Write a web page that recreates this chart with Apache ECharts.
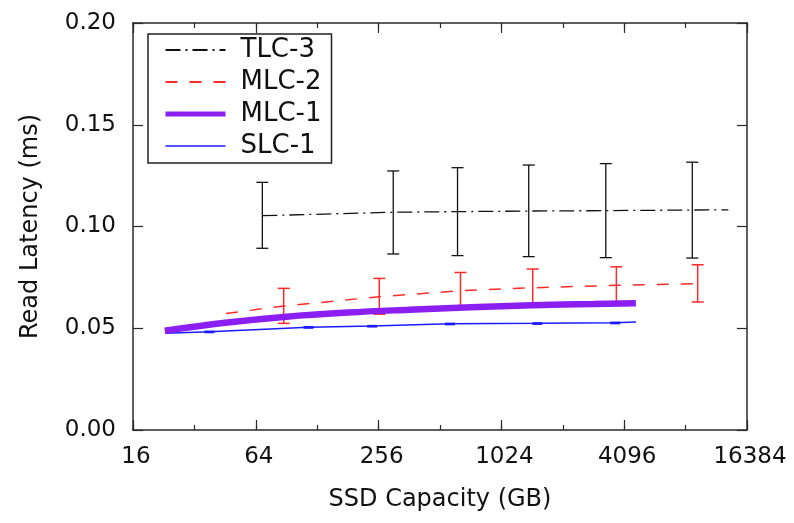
<!DOCTYPE html>
<html>
<head>
<meta charset="utf-8">
<script src="https://cdn.jsdelivr.net/npm/echarts@6/dist/echarts.min.js"></script>
<style>
  html, body { margin: 0; padding: 0; background: #fff; }
  #chart { width: 794px; height: 523px; }
</style>
</head>
<body>
<div id="chart"></div>
<script>
// x tick labels (log2 axis)
const xLabels = [16, 64, 256, 1024, 4096, 16384];

// TLC-3 trend line + error bars
const tlcLineX = [68.9, 302, 624, 1394, 3327, 8834, 13270];
const tlcLineY = [0.1053, 0.1070, 0.1073, 0.1076, 0.1078, 0.1081, 0.1082];
const tlcBarX = [68.9, 302, 624, 1394, 3327, 8834];
const tlcLow = [0.0893, 0.0865, 0.0857, 0.0852, 0.0847, 0.0845];
const tlcHigh = [0.1217, 0.1273, 0.1289, 0.1302, 0.1309, 0.1316];

// MLC-2
const mlc2LineX = [45.7, 87.7, 258, 645, 1458, 3749, 9390];
const mlc2LineY = [0.0573, 0.0609, 0.0655, 0.0684, 0.0699, 0.0711, 0.0719];
const mlc2BarX = [87.7, 258, 645, 1458, 3749, 9390];
const mlc2Low = [0.0524, 0.0569, 0.0595, 0.0609, 0.0621, 0.0629];
const mlc2High = [0.0696, 0.0745, 0.0774, 0.0791, 0.0802, 0.0812];

// MLC-1
const mlc1LineX = [22.9, 45.3, 90.5, 181, 362, 724, 1448, 2896, 4673];
const mlc1LineY = [0.0488, 0.0527, 0.0557, 0.0577, 0.0591, 0.0603, 0.0613, 0.0619, 0.0623];

// SLC-1
const slcLineX = [23, 37.9, 116, 238, 573, 1536, 3698, 4680];
const slcLineY = [0.0475, 0.0483, 0.0505, 0.0511, 0.0522, 0.0524, 0.0527, 0.0531];
const slcBarX = [37.9, 116, 238, 573, 1536, 3698];
const slcLow = [0.0479, 0.0501, 0.0507, 0.0518, 0.0520, 0.0523];
const slcHigh = [0.0485, 0.0507, 0.0513, 0.0524, 0.0526, 0.0529];

const FONT = 'DejaVu Sans';
const AXIS_COLOR = '#2a2a2a';

const pairs = (xs, ys) => xs.map((x, i) => [x, ys[i]]);
const bars = (xs, lo, hi) => xs.map((x, i) => [x, lo[i], hi[i]]);

// error bar renderer
function errorBars(color, cap, width) {
  return function (params, api) {
    const x = api.value(0);
    const lo = api.coord([x, api.value(1)]);
    const hi = api.coord([x, api.value(2)]);
    const style = { stroke: color, lineWidth: width };
    return {
      type: 'group',
      children: [
        { type: 'line', shape: { x1: lo[0], y1: lo[1], x2: hi[0], y2: hi[1] }, style },
        { type: 'line', shape: { x1: lo[0] - cap, y1: lo[1], x2: lo[0] + cap, y2: lo[1] }, style },
        { type: 'line', shape: { x1: hi[0] - cap, y1: hi[1], x2: hi[0] + cap, y2: hi[1] }, style },
      ],
    };
  };
}

function logAxis(position, interval, tickLen, withLine, withLabels) {
  return {
    type: 'log',
    logBase: 2,
    min: 16,
    max: 16384,
    interval: interval,
    position: position,
    axisLine: { show: withLine, lineStyle: { color: AXIS_COLOR, width: 1.5 } },
    axisTick: { show: true, inside: true, length: tickLen, lineStyle: { color: AXIS_COLOR, width: 1.2 } },
    axisLabel: {
      show: withLabels,
      margin: 16,
      color: '#111',
      fontFamily: FONT,
      fontSize: 23,
      padding: [0, 0, 0, 6],
      formatter: (v) => {
        const n = Math.round(v);
        return xLabels.includes(n) ? String(n) : '';
      },
    },
    splitLine: { show: false },
    minorTick: { show: false },
  };
}

const chart = echarts.init(document.getElementById('chart'));
chart.setOption({
  animation: false,
  backgroundColor: '#fff',
  grid: { left: 133, right: 47, top: 23, bottom: 93 },
  legend: {
    data: [
      { name: 'TLC-3' },
      { name: 'MLC-2' },
      { name: 'MLC-1', lineStyle: { width: 5 } },
      { name: 'SLC-1', lineStyle: { width: 1.5 } },
    ],
    orient: 'vertical',
    left: 148,
    top: 34,
    padding: [3, 10, 4, 15],
    itemWidth: 60,
    itemHeight: 26,
    itemGap: 6,
    itemStyle: { opacity: 0 },
    borderColor: '#222',
    borderWidth: 1.5,
    textStyle: { fontFamily: FONT, fontSize: 26, color: '#111', lineHeight: 26, padding: [0, 0, 0, 10] },
  },
  xAxis: [
    Object.assign(logAxis('bottom', 1, 5, true, true), {
      name: 'SSD Capacity (GB)',
      nameLocation: 'middle',
      nameGap: 58,
      nameTextStyle: { fontFamily: FONT, fontSize: 24, color: '#111' },
    }),
    logAxis('bottom', 2, 10, false, false),
    logAxis('top', 1, 5, true, false),
    logAxis('top', 2, 10, false, false),
  ],
  yAxis: [
    {
      type: 'value',
      min: 0,
      max: 0.2,
      interval: 0.05,
      position: 'left',
      name: 'Read Latency (ms)',
      nameLocation: 'middle',
      nameGap: 90,
      nameTextStyle: { fontFamily: FONT, fontSize: 24, color: '#111' },
      axisLine: { show: true, lineStyle: { color: AXIS_COLOR, width: 1.5 } },
      axisTick: { show: true, inside: true, length: 10, lineStyle: { color: AXIS_COLOR, width: 1.2 } },
      axisLabel: { margin: 17, color: '#111', fontFamily: FONT, fontSize: 23, formatter: (v) => v.toFixed(2) },
      splitLine: { show: false },
    },
    {
      type: 'value',
      min: 0,
      max: 0.2,
      interval: 0.05,
      position: 'right',
      axisLine: { show: true, lineStyle: { color: AXIS_COLOR, width: 1.5 } },
      axisTick: { show: true, inside: true, length: 10, lineStyle: { color: AXIS_COLOR, width: 1.2 } },
      axisLabel: { show: false },
      splitLine: { show: false },
    },
  ],
  series: [
    {
      name: 'TLC-3',
      type: 'line',
      symbol: 'none',
      data: pairs(tlcLineX, tlcLineY),
      lineStyle: { color: '#111', width: 1.3, type: [15, 5, 2, 5] },
      itemStyle: { color: '#111' },
    },
    {
      name: 'TLC-3 err',
      type: 'custom',
      renderItem: errorBars('#111', 6, 1.3),
      encode: { x: 0, y: [1, 2] },
      data: bars(tlcBarX, tlcLow, tlcHigh),
    },
    {
      name: 'SLC-1',
      type: 'line',
      symbol: 'none',
      data: pairs(slcLineX, slcLineY),
      lineStyle: { color: '#1a1aff', width: 1.5 },
      itemStyle: { color: '#1a1aff' },
    },
    {
      name: 'SLC-1 err',
      type: 'custom',
      renderItem: errorBars('#1a1aff', 5, 1.5),
      encode: { x: 0, y: [1, 2] },
      data: bars(slcBarX, slcLow, slcHigh),
    },
    {
      name: 'MLC-1',
      type: 'line',
      symbol: 'none',
      smooth: 0.4,
      data: pairs(mlc1LineX, mlc1LineY),
      lineStyle: { color: '#8b1ef0', width: 6.5 },
      itemStyle: { color: '#8b1ef0' },
    },
    {
      name: 'MLC-2',
      type: 'line',
      symbol: 'none',
      data: pairs(mlc2LineX, mlc2LineY),
      lineStyle: { color: '#ff2a2a', width: 1.5, type: [12, 12] },
      itemStyle: { color: '#ff2a2a' },
    },
    {
      name: 'MLC-2 err',
      type: 'custom',
      renderItem: errorBars('#ff2a2a', 6, 1.5),
      encode: { x: 0, y: [1, 2] },
      data: bars(mlc2BarX, mlc2Low, mlc2High),
    },
  ],
});
</script>
</body>
</html>
